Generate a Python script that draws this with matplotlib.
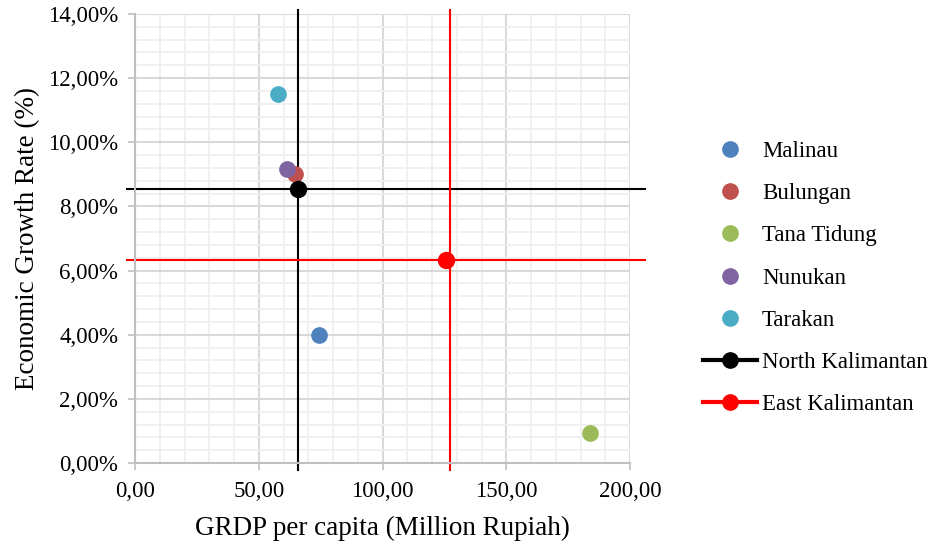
import matplotlib
matplotlib.use("Agg")
import matplotlib.pyplot as plt
from matplotlib.ticker import MultipleLocator, FuncFormatter

plt.rcParams['font.family'] = ['Liberation Serif', 'DejaVu Serif']

# Regency / city data: GRDP per capita (million Rupiah) and growth rate (%)
regions = ["Malinau", "Bulungan", "Tana Tidung", "Nunukan", "Tarakan"]
grdp = [74.3, 64.6, 183.8, 61.4, 57.8]
growth = [3.99, 9.01, 0.94, 9.17, 11.51]
colors = ["#4F81BD", "#C0504D", "#9BBB59", "#8064A2", "#4BACC6"]

# Province reference points and the crosshair lines through them
provinces = ["North Kalimantan", "East Kalimantan"]
prov_grdp = [65.9, 125.8]
prov_growth = [8.54, 6.33]
prov_line_x = [65.9, 127.4]
prov_line_y = [8.54, 6.33]
prov_colors = ["#000000", "#FF0000"]

fig = plt.figure(figsize=(9.45, 5.43), dpi=100)
ax = fig.add_axes([0.1429, 0.1473, 0.5238, 0.8269])
ax.set_xlim(0, 200)
ax.set_ylim(0, 14)

ax.xaxis.set_major_locator(MultipleLocator(50))
ax.xaxis.set_minor_locator(MultipleLocator(10))
ax.yaxis.set_major_locator(MultipleLocator(2))
ax.yaxis.set_minor_locator(MultipleLocator(0.4))
ax.grid(which="minor", color="#efefef", linewidth=1.3, zorder=0)
ax.grid(which="major", color="#d9d9d9", linewidth=1.5, zorder=0)
ax.set_axisbelow(True)

ax.xaxis.set_major_formatter(FuncFormatter(lambda v, p: f"{v:.2f}".replace(".", ",")))
ax.yaxis.set_major_formatter(FuncFormatter(lambda v, p: f"{v:.2f}".replace(".", ",") + "%"))
ax.tick_params(which="major", length=5, width=1.2, color="#bfbfbf", labelsize=16.5)
ax.tick_params(axis="x", pad=8)
ax.tick_params(axis="y", pad=7)
ax.tick_params(which="minor", length=0)

for s in ["top", "right"]:
    ax.spines[s].set_visible(False)
for s in ["left", "bottom"]:
    ax.spines[s].set_color("#bfbfbf")
    ax.spines[s].set_linewidth(1.5)

handles = []
for name, x, y, c in zip(regions, grdp, growth, colors):
    h, = ax.plot([x], [y], "o", color=c, markersize=11, linestyle="none",
                 label=name, zorder=3)
    handles.append(h)

for name, x, y, lx, ly, c in zip(provinces, prov_grdp, prov_growth,
                                 prov_line_x, prov_line_y, prov_colors):
    ax.plot([lx, lx], [-0.22, 14.12], color=c, linewidth=1.5, clip_on=False, zorder=2)
    ax.plot([-3.2, 206], [ly, ly], color=c, linewidth=1.5, clip_on=False, zorder=2)
    ax.plot([x], [y], "o", color=c, markersize=11.5, zorder=4)
    h, = ax.plot([], [], "-o", color=c, linewidth=3, markersize=11, label=name)
    handles.append(h)

ax.set_xlabel("GRDP per capita (Million Rupiah)", fontsize=19.5, labelpad=10)
ax.set_ylabel("Economic Growth Rate (%)", fontsize=19.5, labelpad=6)

fig.legend(handles=handles, loc="center left", bbox_to_anchor=(0.734, 0.488),
           frameon=False, fontsize=16.5, handlelength=2.36, handletextpad=0.22,
           labelspacing=0.92, borderaxespad=0)

fig.savefig("out.png", dpi=100)
